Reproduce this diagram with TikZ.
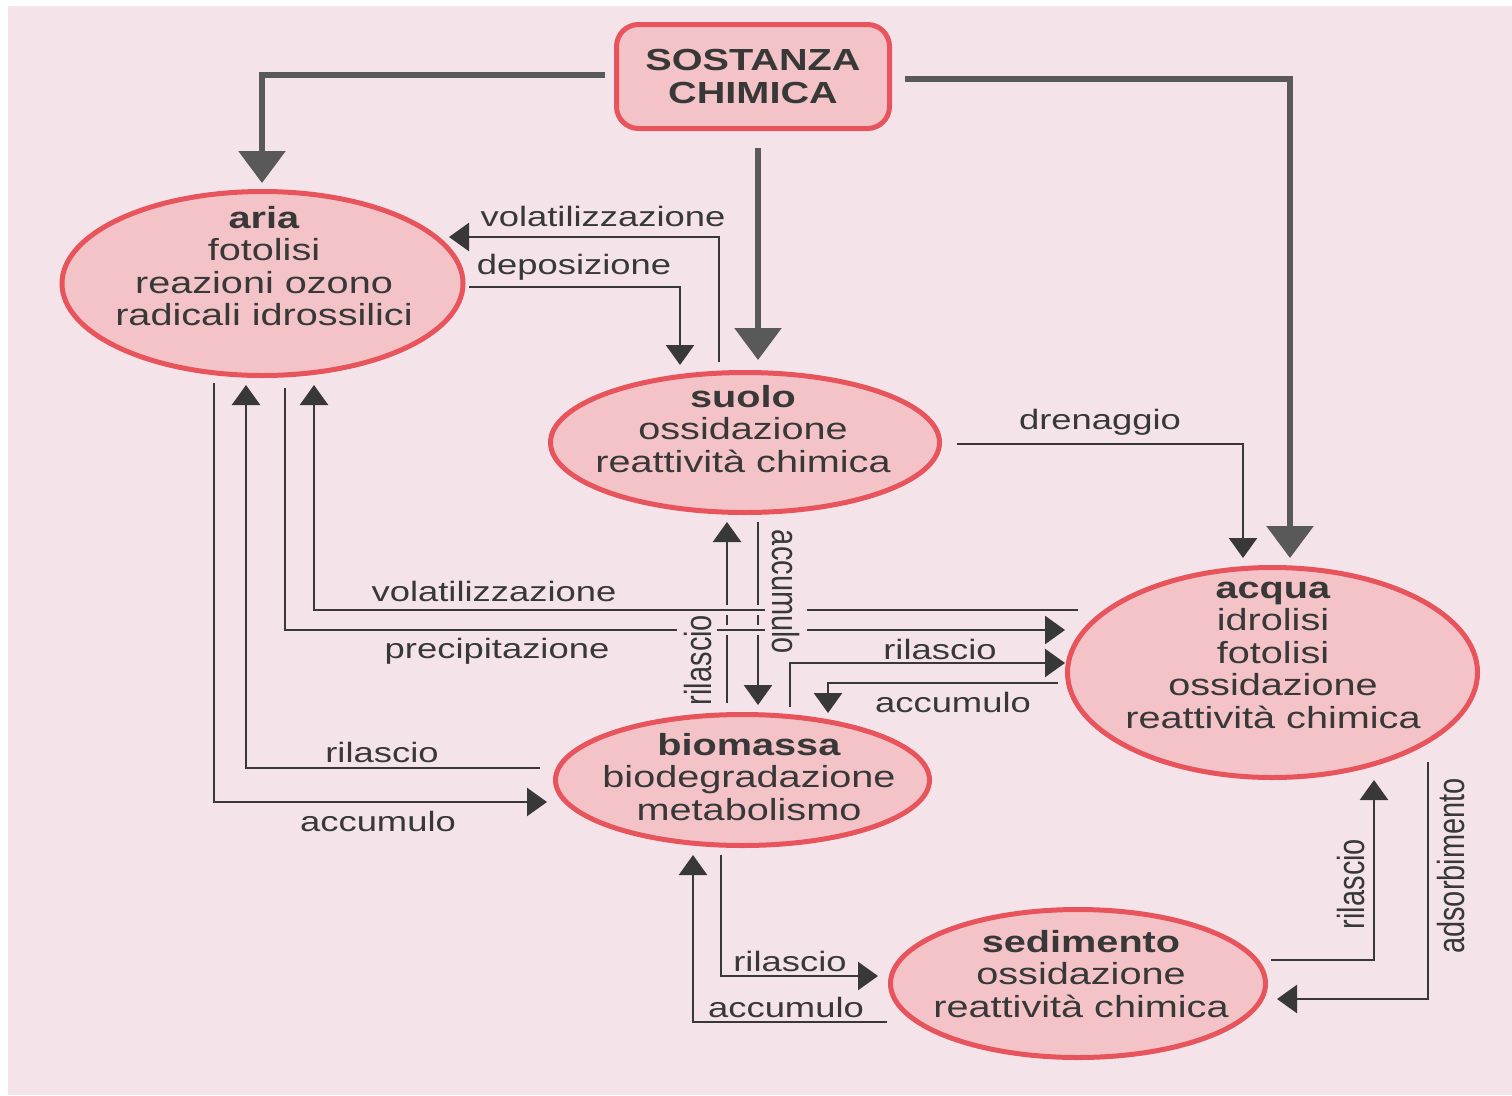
\documentclass[tikz,border=0pt]{standalone}
\usepackage{graphicx}
\usepackage{fontspec}
\setmainfont{Liberation Sans}[FakeStretch=1.3]
\newfontfamily\rotfont{Liberation Sans}
\usetikzlibrary{arrows.meta,shapes.geometric}
\definecolor{bgpink}{HTML}{F4E4EA}
\definecolor{ellfill}{HTML}{F3C3C8}
\definecolor{ellline}{HTML}{E8545B}
\definecolor{ink}{HTML}{383838}
\definecolor{thickgray}{HTML}{595959}
\begin{document}
\begin{tikzpicture}[x=1pt,y=-1pt,
  ell/.style={ellipse,draw=ellline,fill=ellfill,line width=5pt,inner sep=0pt},
  txt/.style={align=center,text=ink,font=\fontsize{30.5}{32.5}\selectfont,inner sep=0pt},
  lab/.style={text=ink,font=\fontsize{28}{30}\selectfont,inner sep=0pt},
  rlab/.style={text=ink,font=\rotfont\fontsize{29}{30}\selectfont,inner sep=0pt},
  flow/.style={draw=ink,line width=2.5pt,-{Triangle[width=28pt,length=20pt]}},
  plainline/.style={draw=ink,line width=2.5pt},
  bigflow/.style={draw=thickgray,line width=6pt,-{Triangle[width=46pt,length=32pt]}},
  knock/.style={draw=bgpink,line width=8pt},
]
\useasboundingbox (0,0) rectangle (1512,1095);
\fill[white] (0,0) rectangle (1512,1095);
\fill[bgpink] (8,6) rectangle (1512,1095);

% nodes
\node[draw=ellline,fill=ellfill,line width=5pt,rounded corners=22pt,
      minimum width=273pt,minimum height=104pt,inner sep=0pt,
      align=center,text=ink,font=\bfseries\fontsize{30.5}{32.5}\selectfont]
      (sost) at (753,76.5) {SOSTANZA\\CHIMICA};

\node[ell,minimum width=401pt,minimum height=184pt] (aria) at (262.5,283.5) {};
\node[txt] (ariatxt) at (264,266) {\textbf{aria}\\fotolisi\\reazioni ozono\\radicali idrossilici};

\node[ell,minimum width=389pt,minimum height=140pt] (suolo) at (745,442.5) {};
\node[txt] (suolotxt) at (743,429) {\textbf{suolo}\\ossidazione\\reattività chimica};

\node[ell,minimum width=410pt,minimum height=210pt] (acqua) at (1272.5,672.5) {};
\node[txt] (acquatxt) at (1273,655) {\textbf{acqua}\\idrolisi\\fotolisi\\ossidazione\\reattività chimica};

\node[ell,minimum width=374pt,minimum height=131pt] (biom) at (742.5,780) {};
\node[txt] (biomtxt) at (749,777) {\textbf{biomassa}\\biodegradazione\\metabolismo};

\node[ell,minimum width=375pt,minimum height=148pt] (sedim) at (1078,983.5) {};
\node[txt] (sedimtxt) at (1081,974) {\textbf{sedimento}\\ossidazione\\reattività chimica};

% coordinates
\coordinate (s1) at (605,75);   \coordinate (t1) at (262,183);
\coordinate (s2) at (758,148);  \coordinate (t2) at (758,360);
\coordinate (s3) at (905,79);   \coordinate (t3) at (1290,558);

\coordinate (a1) at (719,362);  \coordinate (a2) at (449,237);
\coordinate (b1) at (469,287);  \coordinate (b2) at (680,365);
\coordinate (c1) at (957,444);  \coordinate (c2) at (1243,558);
\coordinate (d1) at (1078,610); \coordinate (d2) at (314,385);
\coordinate (e1) at (285,388);  \coordinate (e2) at (1065,630);
\coordinate (f1) at (540,768);  \coordinate (f2) at (246,385);
\coordinate (g1) at (214,383);  \coordinate (g2) at (547,802);
\coordinate (h1) at (727,703);  \coordinate (h2) at (727,522);
\coordinate (i1) at (758,522);  \coordinate (i2) at (758,705);
\coordinate (j1) at (790,707);  \coordinate (j2) at (1065,663);
\coordinate (k1) at (1058,683); \coordinate (k2) at (828,713);
\coordinate (l1) at (721,855);  \coordinate (l2) at (878,976);
\coordinate (m1) at (887,1022); \coordinate (m2) at (693,855);
\coordinate (n1) at (1271,960); \coordinate (n2) at (1374,780);
\coordinate (o1) at (1428,762); \coordinate (o2) at (1277,999);

% thick arrows from SOSTANZA CHIMICA
\draw[bigflow] (s1) -| (t1);
\draw[bigflow] (s2) -- (t2);
\draw[bigflow] (s3) -| (t3);

% thin connectors
\draw[flow] (a1) |- (a2);
\draw[flow] (b1) -| (b2);
\draw[flow] (c1) -| (c2);
\draw[flow] (h1) -- (h2);
\draw[flow] (i1) -- (i2);
% knock-outs where the horizontals cross the verticals
\draw[knock,line width=10pt] (720,610) -- (766,610);
\draw[knock,line width=10pt] (720,629.5) -- (766,629.5);
\draw[flow] (d1) -| (d2);
\draw[flow] (e1) |- (e2);
% gaps left for the vertical labels
\draw[knock] (677,630) -- (717,630);
\draw[knock] (765,610) -- (807,610);
\draw[knock] (765,630) -- (807,630);

\draw[flow] (f1) -| (f2);
\draw[flow] (g1) |- (g2);
\draw[flow] (j1) |- (j2);
\draw[flow] (k1) -| (k2);
\draw[flow] (l1) |- (l2);
\draw[flow] (m1) -| (m2);
\draw[flow] (n1) -| (n2);
\draw[flow] (o1) |- (o2);

% labels
\node[lab] (la) at (603,216) {volatilizzazione};
\node[lab] (lb) at (574,267) {deposizione};
\node[lab] (lc) at (1100,422) {drenaggio};
\node[lab] (ld) at (494,591) {volatilizzazione};
\node[lab] (le) at (497,651) {precipitazione};
\node[lab] (lf) at (382,752) {rilascio};
\node[lab] (lg) at (378,821) {accumulo};
\node[lab] (lj) at (940,649) {rilascio};
\node[lab] (lk) at (953,702) {accumulo};
\node[lab] (ll) at (790,961) {rilascio};
\node[lab] (lm) at (786,1007) {accumulo};
\node[rlab,rotate=90] (lh) at (698,660) {\scalebox{1}[1.3]{rilascio}};
\node[rlab,rotate=-90] (li) at (786,592) {\scalebox{1}[1.3]{accumulo}};
\node[rlab,rotate=90] (ln) at (1351,884) {\scalebox{1}[1.3]{rilascio}};
\node[rlab,rotate=90] (lo) at (1451,866) {\scalebox{1}[1.3]{adsorbimento}};
\end{tikzpicture}
\end{document}
